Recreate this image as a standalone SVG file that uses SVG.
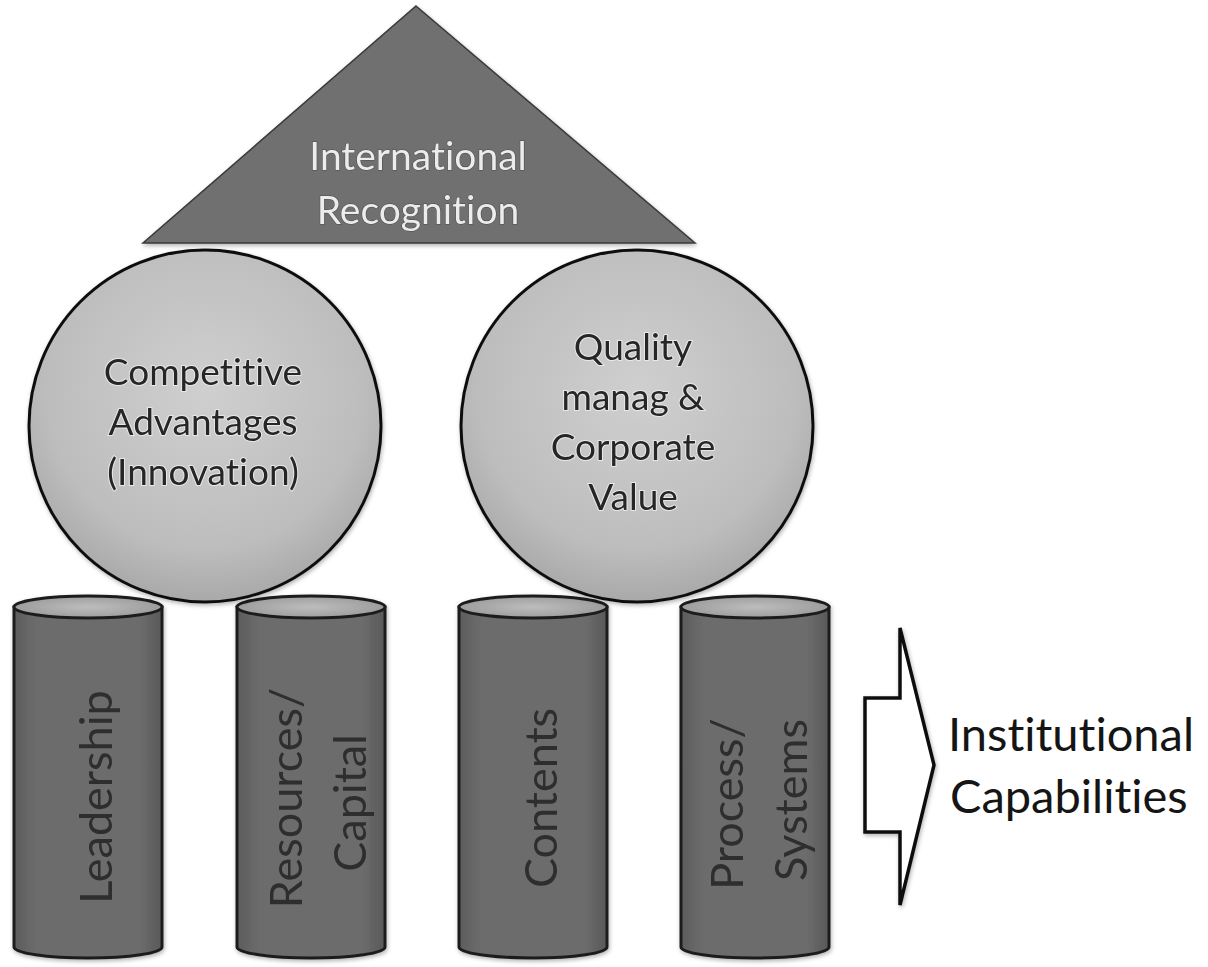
<svg xmlns="http://www.w3.org/2000/svg" width="1208" height="967" viewBox="0 0 1208 967">
  <defs>
    <radialGradient id="ballGrad" cx="50%" cy="40%" r="60%">
      <stop offset="0" stop-color="#cfcfcf"/>
      <stop offset="0.75" stop-color="#bdbdbd"/>
      <stop offset="1" stop-color="#a9a9a9"/>
    </radialGradient>
    <linearGradient id="cylGrad" x1="0" y1="0" x2="1" y2="0">
      <stop offset="0" stop-color="#5c5c5c"/>
      <stop offset="0.15" stop-color="#6c6c6c"/>
      <stop offset="0.85" stop-color="#6c6c6c"/>
      <stop offset="1" stop-color="#585858"/>
    </linearGradient>
    <radialGradient id="capGrad" cx="50%" cy="50%" r="55%">
      <stop offset="0" stop-color="#bdbdbd"/>
      <stop offset="1" stop-color="#9a9a9a"/>
    </radialGradient>
    <filter id="shadow" x="-10%" y="-10%" width="120%" height="120%">
      <feDropShadow dx="1" dy="2" stdDeviation="2" flood-color="#000" flood-opacity="0.3"/>
    </filter>
  </defs>
  <style>
    .tri { fill: #6f6f6f; stroke: #3a3a3a; stroke-width: 1.5; }
    .ball { fill: url(#ballGrad); stroke: #111; stroke-width: 3; }
    .cyl { fill: url(#cylGrad); stroke: #1e1e1e; stroke-width: 3; }
    .cap { fill: url(#capGrad); stroke: #1e1e1e; stroke-width: 3; }
    .arrow { fill: #ffffff; stroke: #111; stroke-width: 3.5; stroke-linejoin: miter; }
    text { font-family: Lato, "Open Sans", "Liberation Sans", sans-serif; text-anchor: middle; font-variant-ligatures: none; }
    .ttri { font-size: 39px; fill: #ececec; stroke: #4a4a4a; stroke-width: 1; paint-order: stroke; }
    .tball { font-size: 37px; fill: #262626; stroke: #e8e8e8; stroke-width: 2; paint-order: stroke; }
    .tcyl { font-size: 45px; fill: #2e2e2e; }
    .tlabel { font-size: 47px; fill: #151515; text-anchor: start; }
  </style>
  <rect width="1208" height="967" fill="#ffffff"/>

  <g id="triangle" filter="url(#shadow)">
    <polygon class="tri" points="416,6 695,243 143,243"/>
    <text class="ttri" x="418" y="170">International</text>
    <text class="ttri" x="418" y="224">Recognition</text>
  </g>

  <g id="cyl-leadership" filter="url(#shadow)">
    <path class="cyl" d="M14,607 L14,947 A74,11 0 0 0 162,947 L162,607 Z"/>
    <ellipse class="cap" cx="88" cy="607" rx="74" ry="11"/>
    <text class="tcyl" transform="translate(112,797) rotate(-90)">Leadership</text>
  </g>
  <g id="cyl-resources" filter="url(#shadow)">
    <path class="cyl" d="M237,607 L237,947 A74,11 0 0 0 385,947 L385,607 Z"/>
    <ellipse class="cap" cx="311" cy="607" rx="74" ry="11"/>
    <text class="tcyl" transform="translate(302,798) rotate(-90)">Resources/</text>
    <text class="tcyl" transform="translate(366,803) rotate(-90)">Capital</text>
  </g>
  <g id="cyl-contents" filter="url(#shadow)">
    <path class="cyl" d="M459,607 L459,947 A74,11 0 0 0 607,947 L607,607 Z"/>
    <ellipse class="cap" cx="533" cy="607" rx="74" ry="11"/>
    <text class="tcyl" transform="translate(557,798) rotate(-90)">Contents</text>
  </g>
  <g id="cyl-process" filter="url(#shadow)">
    <path class="cyl" d="M681,607 L681,947 A74,11 0 0 0 829,947 L829,607 Z"/>
    <ellipse class="cap" cx="755" cy="607" rx="74" ry="11"/>
    <text class="tcyl" transform="translate(743,804) rotate(-90)">Process/</text>
    <text class="tcyl" transform="translate(807,800) rotate(-90)">Systems</text>
  </g>

  <g id="circle-competitive" filter="url(#shadow)">
    <circle class="ball" cx="205" cy="426" r="176"/>
    <text class="tball" x="203" y="385">Competitive</text>
    <text class="tball" x="203" y="435">Advantages</text>
    <text class="tball" x="203" y="485">(Innovation)</text>
  </g>
  <g id="circle-quality" filter="url(#shadow)">
    <circle class="ball" cx="637" cy="426" r="176"/>
    <text class="tball" x="633" y="360">Quality</text>
    <text class="tball" x="633" y="410">manag &amp;</text>
    <text class="tball" x="633" y="460">Corporate</text>
    <text class="tball" x="633" y="510">Value</text>
  </g>

  <g id="connectors">
    <polygon class="arrow" filter="url(#shadow)" points="865,698 900,698 900,628 934,765 900,905 900,832 865,832"/>
  </g>

  <g id="label-institutional">
    <text class="tlabel" x="948" y="751">Institutional</text>
    <text class="tlabel" x="950" y="813">Capabilities</text>
  </g>
</svg>
